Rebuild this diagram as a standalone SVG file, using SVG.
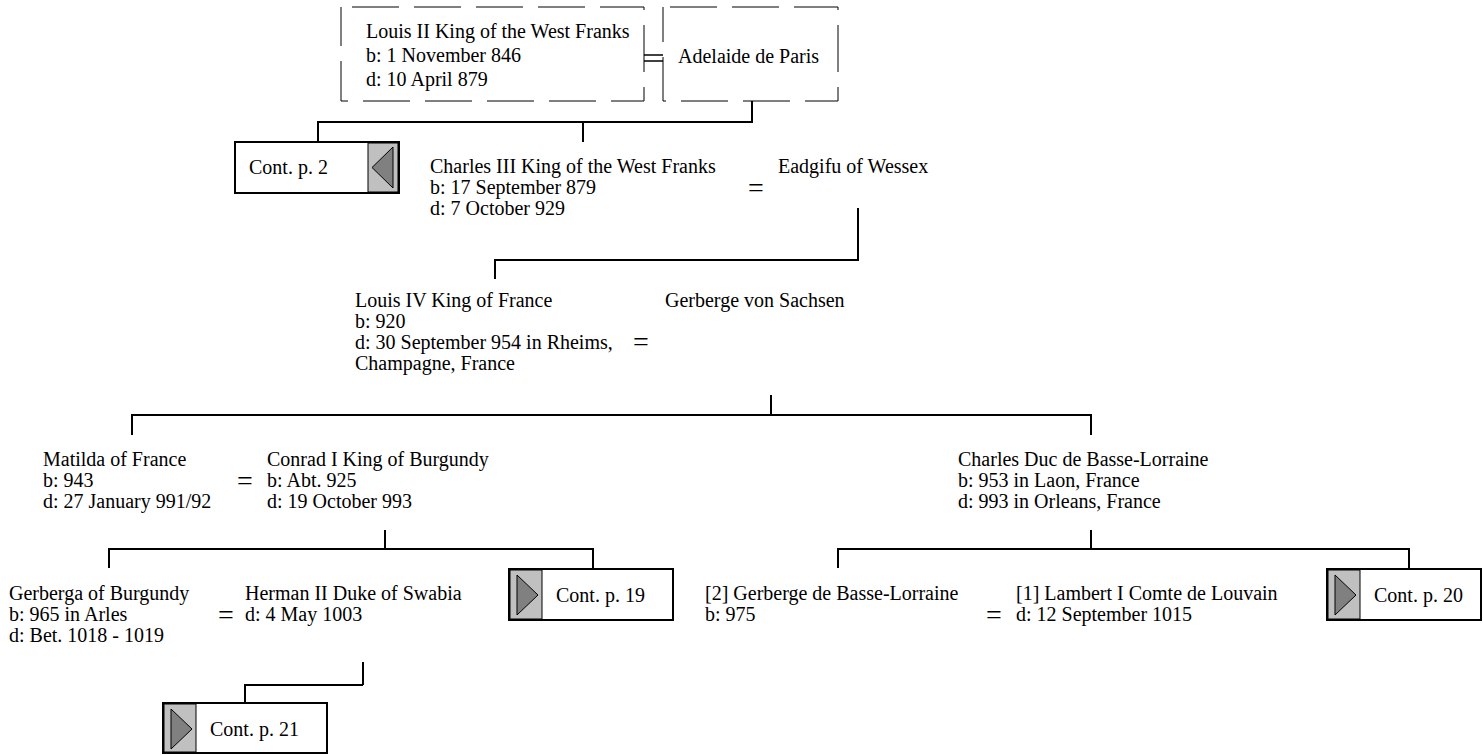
<svg xmlns="http://www.w3.org/2000/svg" width="1483" height="755" viewBox="0 0 1483 755">
<style>
text{font-family:"Liberation Serif","Times New Roman",serif;font-size:20px;fill:#000}
text.eq{font-size:28px}
.ln{stroke:#000;stroke-width:2;fill:none}
.dash{fill:#fff;stroke:#000;stroke-width:1;stroke-dasharray:47 15}
.cbox{fill:#fff;stroke:#000;stroke-width:2}
.cg{fill:#c0c0c0;stroke:#000;stroke-width:1}
.tri{fill:#808080;stroke:#000;stroke-width:1}
.dl{stroke:#000;stroke-width:1.5}
</style>
<rect width="1483" height="755" fill="#fff"/>
<g id="connectors">
<polyline class="ln" points="752,101 752,122 318,122 318,141"/>
<line class="ln" x1="583" y1="122" x2="583" y2="142"/>
<polyline class="ln" points="858,208 858,260 495,260 495,279"/>
<line class="ln" x1="771" y1="395" x2="771" y2="415"/>
<polyline class="ln" points="132,435 132,415 1091,415 1091,435"/>
<line class="ln" x1="385" y1="530" x2="385" y2="549"/>
<polyline class="ln" points="109,568 109,549 593,549 593,569"/>
<line class="ln" x1="363" y1="662" x2="363" y2="685"/>
<polyline class="ln" points="363,685 245,685 245,703"/>
<line class="ln" x1="1091" y1="530" x2="1091" y2="549"/>
<polyline class="ln" points="838,568 838,549 1409,549 1409,569"/>
<line class="dl" x1="644" y1="55" x2="663" y2="55"/>
<line class="dl" x1="644" y1="61" x2="663" y2="61"/>
</g>
<g id="louis2">
<rect class="dash" x="341" y="7" width="303" height="94" stroke-dashoffset="51"/>
<text x="366" y="38">Louis II King of the West Franks</text>
<text x="366" y="62">b: 1 November 846</text>
<text x="366" y="86">d: 10 April 879</text>
</g>
<g id="adelaide">
<rect class="dash" x="663" y="7" width="175" height="94" stroke-dashoffset="55"/>
<text x="678" y="63">Adelaide de Paris</text>
</g>
<g id="cont2">
<rect class="cbox" x="235" y="142" width="164" height="51"/>
<rect class="cg" x="368" y="143" width="30" height="49"/>
<polygon class="tri" points="393,147 393,188 372,167.5"/>
<text x="249" y="174">Cont. p. 2</text>
</g>
<g id="charles3">
<text x="430" y="173">Charles III King of the West Franks</text>
<text x="430" y="194">b: 17 September 879</text>
<text x="430" y="215">d: 7 October 929</text>
</g>
<g id="m1"><text class="eq" x="748" y="197">=</text></g>
<g id="eadgifu"><text x="778" y="173">Eadgifu of Wessex</text></g>
<g id="louis4">
<text x="355" y="307">Louis IV King of France</text>
<text x="355" y="328">b: 920</text>
<text x="355" y="349">d: 30 September 954 in Rheims,</text>
<text x="355" y="370">Champagne, France</text>
</g>
<g id="m2"><text class="eq" x="633" y="351">=</text></g>
<g id="gerberge_s"><text x="665" y="307">Gerberge von Sachsen</text></g>
<g id="matilda">
<text x="43" y="466">Matilda of France</text>
<text x="43" y="487">b: 943</text>
<text x="43" y="508">d: 27 January 991/92</text>
</g>
<g id="m3"><text class="eq" x="237" y="490">=</text></g>
<g id="conrad">
<text x="267" y="466">Conrad I King of Burgundy</text>
<text x="267" y="487">b: Abt. 925</text>
<text x="267" y="508">d: 19 October 993</text>
</g>
<g id="charlesduc">
<text x="958" y="466">Charles Duc de Basse-Lorraine</text>
<text x="958" y="487">b: 953 in Laon, France</text>
<text x="958" y="508">d: 993 in Orleans, France</text>
</g>
<g id="gerberga">
<text x="9" y="600">Gerberga of Burgundy</text>
<text x="9" y="621">b: 965 in Arles</text>
<text x="9" y="642">d: Bet. 1018 - 1019</text>
</g>
<g id="m4"><text class="eq" x="218" y="624">=</text></g>
<g id="herman">
<text x="245" y="600">Herman II Duke of Swabia</text>
<text x="245" y="621">d: 4 May 1003</text>
</g>
<g id="cont19">
<rect class="cbox" x="509" y="569" width="164" height="51"/>
<rect class="cg" x="510" y="570" width="32" height="49"/>
<polygon class="tri" points="517,575 517,615 538,595"/>
<text x="556" y="602">Cont. p. 19</text>
</g>
<g id="cont21">
<rect class="cbox" x="163" y="703" width="164" height="50"/>
<rect class="cg" x="164" y="704" width="32" height="48"/>
<polygon class="tri" points="171,709 171,749 192,729"/>
<text x="210" y="736">Cont. p. 21</text>
</g>
<g id="gerberge_bl">
<text x="705" y="600">[2] Gerberge de Basse-Lorraine</text>
<text x="705" y="621">b: 975</text>
</g>
<g id="m5"><text class="eq" x="986" y="624">=</text></g>
<g id="lambert">
<text x="1016" y="600">[1] Lambert I Comte de Louvain</text>
<text x="1016" y="621">d: 12 September 1015</text>
</g>
<g id="cont20">
<rect class="cbox" x="1327" y="569" width="154" height="51"/>
<rect class="cg" x="1328" y="570" width="32" height="49"/>
<polygon class="tri" points="1335,575 1335,615 1356,595"/>
<text x="1374" y="602">Cont. p. 20</text>
</g>
</svg>
